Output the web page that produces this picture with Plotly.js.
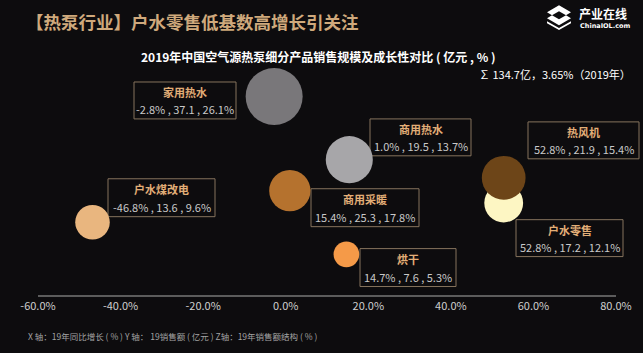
<!DOCTYPE html>
<html>
<head>
<meta charset="utf-8">
<script src="https://cdn.plot.ly/plotly-3.0.1.min.js"></script>
<style>
html,body{margin:0;padding:0;background:#0d0c0e;}
#chart{width:643px;height:353px;}
</style>
</head>
<body>
<div id="chart"></div>
<script>
// ---- data ----
const products = ["家用热水", "商用热水", "商用采暖", "户水煤改电", "户水零售", "热风机", "烘干"];
const growth   = [-2.8, 1.0, 15.4, -46.8, 52.8, 52.8, 14.7];   // X: 19年同比增长 (%)
const sales    = [37.1, 19.5, 25.3, 13.6, 17.2, 21.9, 7.6];    // Y: 19销售额 (亿元)
const share    = [26.1, 13.7, 17.8, 9.6, 12.1, 15.4, 5.3];     // Z: 19年销售额结构 (%)
const xTicks   = [-60, -40, -20, 0, 20, 40, 60, 80];
const xTickText = ["-60.0%", "-40.0%", "-20.0%", "0.0%", "20.0%", "40.0%", "60.0%", "80.0%"];

// ---- styles ----
const bubbleColors = ["#79777a", "#b5722e", "#a7a6a9", "#e9b67f", "#fdf6c3", "#6d4518", "#f59a48"];
// label box pixel positions [x0, x1, y0, y1], same order as products
const labelBoxes = [
  [134, 236, 82, 119],
  [370, 471, 119, 156],
  [311, 419, 189, 227],
  [108, 215, 179, 217],
  [516, 623, 220, 257],
  [528, 639, 122, 159],
  [360, 456, 249, 287]
];

const FONT = "Noto Sans CJK SC, Noto Sans, sans-serif";
const L = 38, R = 616, T = 81, B = 295.5;
const px = x => (x - L) / (R - L);
const py = y => (B - y) / (B - T);

const trace = {
  type: "scatter",
  mode: "markers",
  x: growth,
  y: sales,
  text: products,
  hoverinfo: "none",
  cliponaxis: false,
  marker: {
    size: share,
    sizemode: "area",
    sizeref: 2 * 26.1 / (57 * 57),
    color: bubbleColors,
    opacity: 1,
    line: {width: 0}
  }
};

const shapes = [];
const annotations = [];

products.forEach((name, i) => {
  const b = labelBoxes[i];
  shapes.push({
    type: "rect", xref: "paper", yref: "paper",
    x0: px(b[0]), x1: px(b[1]), y0: py(b[3]), y1: py(b[2]),
    line: {color: "#86735d", width: 1}, fillcolor: "rgba(0,0,0,0)", layer: "below"
  });
  const cx = px((b[0] + b[1]) / 2);
  annotations.push({
    xref: "paper", yref: "paper", x: cx, y: py(b[2] + 10.5),
    xanchor: "center", yanchor: "middle", showarrow: false,
    text: "<b>" + name + "</b>",
    font: {family: FONT, size: 11, color: "#e2ae77"}
  });
  const xs = (growth[i] < 0 ? "-" : "") + Math.abs(growth[i]).toFixed(1) + "%";
  annotations.push({
    xref: "paper", yref: "paper", x: cx, y: py(b[3] - 9.5),
    xanchor: "center", yanchor: "middle", showarrow: false,
    text: xs + " , " + sales[i].toFixed(1) + " , " + share[i].toFixed(1) + "%",
    font: {family: FONT, size: 11, color: "#c9c9c9"}
  });
});

// titles and notes
annotations.push({
  xref: "paper", yref: "paper", x: px(24), y: py(21), xanchor: "left", yanchor: "middle",
  showarrow: false, text: "<b>【热泵行业】户水零售低基数高增长引关注</b>",
  font: {family: FONT, size: 17.5, color: "#cfa97c"}
});
annotations.push({
  xref: "paper", yref: "paper", x: px(318), y: py(56), xanchor: "center", yanchor: "middle",
  showarrow: false, text: "<b>2019年中国空气源热泵细分产品销售规模及成长性对比 ( 亿元 , % )</b>",
  font: {family: FONT, size: 12, color: "#ffffff"}
});
annotations.push({
  xref: "paper", yref: "paper", x: px(633), y: py(74), xanchor: "right", yanchor: "middle",
  showarrow: false, text: "∑ 134.7亿，3.65%（2019年）",
  font: {family: FONT, size: 11, color: "#ffffff"}
});
annotations.push({
  xref: "paper", yref: "paper", x: px(26), y: py(337), xanchor: "left", yanchor: "middle",
  showarrow: false, text: "X 轴：19年同比增长 ( % ) Y 轴： 19销售额 ( 亿元 ) Z轴：19年销售额结构 ( % )",
  font: {family: FONT, size: 8.5, color: "#a3a3a3"}
});
// logo text
annotations.push({
  xref: "paper", yref: "paper", x: px(577), y: py(13), xanchor: "left", yanchor: "middle",
  showarrow: false, text: "<b>产业在线</b>",
  font: {family: FONT, size: 12, color: "#ffffff"}
});
annotations.push({
  xref: "paper", yref: "paper", x: px(578), y: py(25.5), xanchor: "left", yanchor: "middle",
  showarrow: false, text: "<b>ChinaIOL.com</b>",
  font: {family: "DejaVu Sans, sans-serif", size: 6.5, color: "#ffffff"}
});
// logo icon
function poly(pts) {
  return "M " + pts.map(p => px(p[0]) + "," + py(p[1])).join(" L ") + " Z";
}
shapes.push({type: "path", xref: "paper", yref: "paper", layer: "above", line: {width: 0}, fillcolor: "#ffffff",
  path: poly([[547, 12], [559, 5], [571, 12], [566, 15], [559, 11], [552, 15]])});
shapes.push({type: "path", xref: "paper", yref: "paper", layer: "above", line: {width: 0}, fillcolor: "#ffffff",
  path: poly([[552, 15], [559, 19], [566, 15], [571, 18], [559, 25], [547, 18]])});
shapes.push({type: "path", xref: "paper", yref: "paper", layer: "above", line: {width: 0}, fillcolor: "#ffffff",
  path: poly([[547, 21], [559, 28], [571, 21], [571, 23], [559, 30], [547, 23]])});

const layout = {
  width: 643, height: 353,
  paper_bgcolor: "#0d0c0e", plot_bgcolor: "#0d0c0e",
  margin: {l: L, r: 643 - R, t: T, b: 353 - B},
  showlegend: false,
  font: {family: FONT},
  xaxis: {
    range: [-60, 80], tickvals: xTicks, ticktext: xTickText,
    showgrid: false, zeroline: false, showline: true, linecolor: "#5c5c5c", linewidth: 1.5,
    ticks: "", tickfont: {family: FONT, size: 11, color: "#cfcfcf"}, fixedrange: true
  },
  yaxis: {
    range: [0, 40], showgrid: false, zeroline: false, showline: false,
    showticklabels: false, ticks: "", fixedrange: true
  },
  shapes: shapes,
  annotations: annotations
};

Plotly.newPlot("chart", [trace], layout, {staticPlot: true, displayModeBar: false});
</script>
</body>
</html>
